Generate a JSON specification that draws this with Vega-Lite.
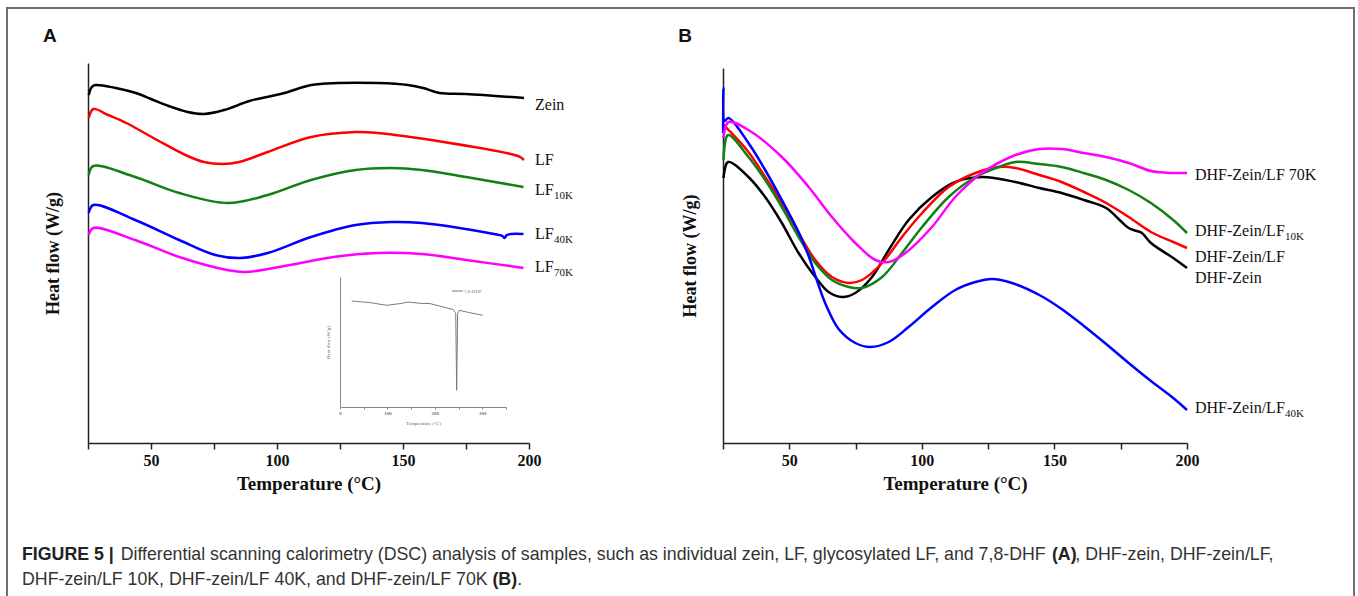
{
  "$schema": "https://vega.github.io/schema/vega-lite/v6.json",
  "width": 1347,
  "height": 588,
  "autosize": {"type": "none"},
  "padding": {"left": 7, "top": 8, "right": 4, "bottom": 0},
  "background": "white",
  "config": {
    "view": {"stroke": "#707070", "strokeWidth": 2, "strokeDash": [1935, 1347, 588]},
    "axis": {"grid": false, "minExtent": 0}
  },
  "title": {
    "text": [
      "\u200b\u00a0\u00a0\u00a0\u00a0\u00a0\u00a0\u00a0\u00a0\u00a0\u00a0\u00a0\u00a0\u00a0\u00a0\u00a0\u00a0\u00a0\u00a0\u00a0\u00a0Differential scanning calorimetry (DSC) analysis of samples, such as individual zein, LF, glycosylated LF, and 7,8-DHF \u00a0\u00a0\u00a0\u00a0\u00a0, DHF-zein, DHF-zein/LF,",
      "DHF-zein/LF 10K, DHF-zein/LF 40K, and DHF-zein/LF 70K \u00a0\u00a0\u00a0\u00a0\u00a0."
    ],
    "orient": "bottom",
    "anchor": "start",
    "frame": "group",
    "offset": -50,
    "dx": 15,
    "font": "Liberation Sans",
    "fontSize": 17.75,
    "fontWeight": "normal",
    "color": "#333333",
    "lineHeight": 25
  },
  "datasets": {
    "A_lines": [
      {"s": "Zein", "T": 25.3, "h": 348}, {"s": "Zein", "T": 26.5, "h": 356}, {"s": "Zein", "T": 28, "h": 358}, {"s": "Zein", "T": 36, "h": 355}, {"s": "Zein", "T": 44, "h": 350}, {"s": "Zein", "T": 50, "h": 344}, {"s": "Zein", "T": 57, "h": 337}, {"s": "Zein", "T": 64.5, "h": 331}, {"s": "Zein", "T": 71, "h": 329}, {"s": "Zein", "T": 79, "h": 333}, {"s": "Zein", "T": 89, "h": 342}, {"s": "Zein", "T": 96, "h": 346}, {"s": "Zein", "T": 103, "h": 350}, {"s": "Zein", "T": 113.5, "h": 358}, {"s": "Zein", "T": 124, "h": 360}, {"s": "Zein", "T": 140, "h": 360}, {"s": "Zein", "T": 152, "h": 358}, {"s": "Zein", "T": 158, "h": 355}, {"s": "Zein", "T": 164.5, "h": 350}, {"s": "Zein", "T": 175, "h": 349}, {"s": "Zein", "T": 198, "h": 345},
      {"s": "LF", "T": 25.3, "h": 325}, {"s": "LF", "T": 27.1, "h": 334}, {"s": "LF", "T": 33, "h": 328}, {"s": "LF", "T": 40.2, "h": 320}, {"s": "LF", "T": 52.4, "h": 303}, {"s": "LF", "T": 64.5, "h": 287}, {"s": "LF", "T": 71, "h": 281}, {"s": "LF", "T": 78.5, "h": 279}, {"s": "LF", "T": 85, "h": 281}, {"s": "LF", "T": 96.3, "h": 291}, {"s": "LF", "T": 113.5, "h": 306}, {"s": "LF", "T": 131.2, "h": 311}, {"s": "LF", "T": 139.8, "h": 310}, {"s": "LF", "T": 166.1, "h": 301}, {"s": "LF", "T": 194.3, "h": 288}, {"s": "LF", "T": 196.5, "h": 286}, {"s": "LF", "T": 198, "h": 283},
      {"s": "LF10K", "T": 25.3, "h": 268}, {"s": "LF10K", "T": 27.1, "h": 277}, {"s": "LF10K", "T": 43.7, "h": 266}, {"s": "LF10K", "T": 61.2, "h": 250}, {"s": "LF10K", "T": 80.6, "h": 240}, {"s": "LF10K", "T": 96.3, "h": 248}, {"s": "LF10K", "T": 113.5, "h": 263}, {"s": "LF10K", "T": 131.2, "h": 273}, {"s": "LF10K", "T": 145.3, "h": 275}, {"s": "LF10K", "T": 157.5, "h": 273}, {"s": "LF10K", "T": 175.1, "h": 266}, {"s": "LF10K", "T": 197.8, "h": 256},
      {"s": "LF40K", "T": 25.3, "h": 230}, {"s": "LF40K", "T": 27.1, "h": 238}, {"s": "LF40K", "T": 43.7, "h": 223}, {"s": "LF40K", "T": 61.2, "h": 203}, {"s": "LF40K", "T": 75.5, "h": 188}, {"s": "LF40K", "T": 85.7, "h": 185}, {"s": "LF40K", "T": 96.3, "h": 190}, {"s": "LF40K", "T": 113.5, "h": 206}, {"s": "LF40K", "T": 131.2, "h": 218}, {"s": "LF40K", "T": 145.3, "h": 221}, {"s": "LF40K", "T": 157.5, "h": 220}, {"s": "LF40K", "T": 185, "h": 209.5}, {"s": "LF40K", "T": 189.5, "h": 207}, {"s": "LF40K", "T": 190.3, "h": 205}, {"s": "LF40K", "T": 191.2, "h": 208}, {"s": "LF40K", "T": 193, "h": 209}, {"s": "LF40K", "T": 197.8, "h": 209},
      {"s": "LF70K", "T": 25.3, "h": 208}, {"s": "LF70K", "T": 27.1, "h": 215}, {"s": "LF70K", "T": 43.7, "h": 203}, {"s": "LF70K", "T": 61.2, "h": 186}, {"s": "LF70K", "T": 80.2, "h": 173}, {"s": "LF70K", "T": 87.5, "h": 171}, {"s": "LF70K", "T": 105, "h": 178}, {"s": "LF70K", "T": 122.5, "h": 186}, {"s": "LF70K", "T": 139.8, "h": 190}, {"s": "LF70K", "T": 157.5, "h": 189}, {"s": "LF70K", "T": 175.1, "h": 183}, {"s": "LF70K", "T": 197.8, "h": 175}
    ],
    "A_labels": [
      {"T": 200, "h": 338, "label": "Zein", "sub": ""},
      {"T": 200, "h": 283, "label": "LF", "sub": ""},
      {"T": 200, "h": 253, "label": "LF", "sub": "10K"},
      {"T": 200, "h": 209, "label": "LF", "sub": "40K"},
      {"T": 200, "h": 176, "label": "LF", "sub": "70K"}
    ],
    "A_letter": [{"T": 9.9, "h": 407, "label": "A"}],
    "caption_bold": [
      {"T": -1.19, "h": -116.5, "label": "FIGURE 5 |"},
      {"T": 407.5, "h": -116.5, "label": "(A)"},
      {"T": 185.5, "h": -141.5, "label": "(B)"}
    ],
    "B_lines": [
      {"s": "DHF-Zein", "T": 25.2, "h": 265}, {"s": "DHF-Zein", "T": 26.9, "h": 281}, {"s": "DHF-Zein", "T": 34.6, "h": 266}, {"s": "DHF-Zein", "T": 40.9, "h": 246}, {"s": "DHF-Zein", "T": 47.2, "h": 220}, {"s": "DHF-Zein", "T": 53.5, "h": 190}, {"s": "DHF-Zein", "T": 59.8, "h": 166}, {"s": "DHF-Zein", "T": 64.8, "h": 151}, {"s": "DHF-Zein", "T": 69.9, "h": 146}, {"s": "DHF-Zein", "T": 74.9, "h": 150}, {"s": "DHF-Zein", "T": 81.2, "h": 166}, {"s": "DHF-Zein", "T": 87.5, "h": 193}, {"s": "DHF-Zein", "T": 95, "h": 223}, {"s": "DHF-Zein", "T": 103.8, "h": 246}, {"s": "DHF-Zein", "T": 112.6, "h": 261}, {"s": "DHF-Zein", "T": 122.7, "h": 266}, {"s": "DHF-Zein", "T": 135.3, "h": 261}, {"s": "DHF-Zein", "T": 144.3, "h": 255}, {"s": "DHF-Zein", "T": 152.7, "h": 250}, {"s": "DHF-Zein", "T": 161.1, "h": 243}, {"s": "DHF-Zein", "T": 169.5, "h": 235}, {"s": "DHF-Zein", "T": 174.6, "h": 223}, {"s": "DHF-Zein", "T": 178, "h": 215}, {"s": "DHF-Zein", "T": 181, "h": 212}, {"s": "DHF-Zein", "T": 183, "h": 210}, {"s": "DHF-Zein", "T": 186.4, "h": 200}, {"s": "DHF-Zein", "T": 194.8, "h": 185}, {"s": "DHF-Zein", "T": 200, "h": 175},
      {"s": "DHF-Zein/LF", "T": 25.2, "h": 318}, {"s": "DHF-Zein/LF", "T": 27.1, "h": 313}, {"s": "DHF-Zein/LF", "T": 34.6, "h": 291}, {"s": "DHF-Zein/LF", "T": 40.9, "h": 266}, {"s": "DHF-Zein/LF", "T": 47.2, "h": 240}, {"s": "DHF-Zein/LF", "T": 53.5, "h": 210}, {"s": "DHF-Zein/LF", "T": 59.8, "h": 183}, {"s": "DHF-Zein/LF", "T": 66.1, "h": 166}, {"s": "DHF-Zein/LF", "T": 72.4, "h": 160}, {"s": "DHF-Zein/LF", "T": 77.4, "h": 163}, {"s": "DHF-Zein/LF", "T": 85, "h": 180}, {"s": "DHF-Zein/LF", "T": 92.5, "h": 206}, {"s": "DHF-Zein/LF", "T": 100.1, "h": 230}, {"s": "DHF-Zein/LF", "T": 110.1, "h": 256}, {"s": "DHF-Zein/LF", "T": 120.2, "h": 270}, {"s": "DHF-Zein/LF", "T": 129, "h": 276}, {"s": "DHF-Zein/LF", "T": 135.3, "h": 275}, {"s": "DHF-Zein/LF", "T": 144.3, "h": 268}, {"s": "DHF-Zein/LF", "T": 152.7, "h": 261}, {"s": "DHF-Zein/LF", "T": 161.1, "h": 251}, {"s": "DHF-Zein/LF", "T": 169.5, "h": 240}, {"s": "DHF-Zein/LF", "T": 178, "h": 226}, {"s": "DHF-Zein/LF", "T": 186.4, "h": 211}, {"s": "DHF-Zein/LF", "T": 194.8, "h": 201}, {"s": "DHF-Zein/LF", "T": 200, "h": 195},
      {"s": "DHF-Zein/LF10K", "T": 25.2, "h": 283}, {"s": "DHF-Zein/LF10K", "T": 26.9, "h": 308}, {"s": "DHF-Zein/LF10K", "T": 34.6, "h": 286}, {"s": "DHF-Zein/LF10K", "T": 40.9, "h": 263}, {"s": "DHF-Zein/LF10K", "T": 47.2, "h": 236}, {"s": "DHF-Zein/LF10K", "T": 53.5, "h": 206}, {"s": "DHF-Zein/LF10K", "T": 59.8, "h": 180}, {"s": "DHF-Zein/LF10K", "T": 66.1, "h": 163}, {"s": "DHF-Zein/LF10K", "T": 72.4, "h": 156}, {"s": "DHF-Zein/LF10K", "T": 77.4, "h": 155}, {"s": "DHF-Zein/LF10K", "T": 85, "h": 166}, {"s": "DHF-Zein/LF10K", "T": 92.5, "h": 190}, {"s": "DHF-Zein/LF10K", "T": 100.1, "h": 216}, {"s": "DHF-Zein/LF10K", "T": 110.1, "h": 246}, {"s": "DHF-Zein/LF10K", "T": 120.2, "h": 266}, {"s": "DHF-Zein/LF10K", "T": 129, "h": 276}, {"s": "DHF-Zein/LF10K", "T": 135.3, "h": 281}, {"s": "DHF-Zein/LF10K", "T": 144.3, "h": 279}, {"s": "DHF-Zein/LF10K", "T": 152.7, "h": 276}, {"s": "DHF-Zein/LF10K", "T": 161.1, "h": 270}, {"s": "DHF-Zein/LF10K", "T": 169.5, "h": 263}, {"s": "DHF-Zein/LF10K", "T": 178, "h": 253}, {"s": "DHF-Zein/LF10K", "T": 186.4, "h": 240}, {"s": "DHF-Zein/LF10K", "T": 194.8, "h": 223}, {"s": "DHF-Zein/LF10K", "T": 200, "h": 210},
      {"s": "DHF-Zein/LF40K", "T": 25.05, "h": 310}, {"s": "DHF-Zein/LF40K", "T": 25.15, "h": 355}, {"s": "DHF-Zein/LF40K", "T": 25.6, "h": 322}, {"s": "DHF-Zein/LF40K", "T": 27.1, "h": 325}, {"s": "DHF-Zein/LF40K", "T": 34.6, "h": 300}, {"s": "DHF-Zein/LF40K", "T": 40.9, "h": 273}, {"s": "DHF-Zein/LF40K", "T": 47.2, "h": 243}, {"s": "DHF-Zein/LF40K", "T": 53.5, "h": 211}, {"s": "DHF-Zein/LF40K", "T": 57.3, "h": 187}, {"s": "DHF-Zein/LF40K", "T": 60.5, "h": 162}, {"s": "DHF-Zein/LF40K", "T": 64, "h": 137}, {"s": "DHF-Zein/LF40K", "T": 68.6, "h": 114}, {"s": "DHF-Zein/LF40K", "T": 74.9, "h": 100}, {"s": "DHF-Zein/LF40K", "T": 80.6, "h": 96}, {"s": "DHF-Zein/LF40K", "T": 87.5, "h": 101}, {"s": "DHF-Zein/LF40K", "T": 95, "h": 116}, {"s": "DHF-Zein/LF40K", "T": 103.8, "h": 136}, {"s": "DHF-Zein/LF40K", "T": 112.6, "h": 153}, {"s": "DHF-Zein/LF40K", "T": 120.2, "h": 161}, {"s": "DHF-Zein/LF40K", "T": 126.5, "h": 164}, {"s": "DHF-Zein/LF40K", "T": 134, "h": 160}, {"s": "DHF-Zein/LF40K", "T": 144.3, "h": 148}, {"s": "DHF-Zein/LF40K", "T": 152.7, "h": 134}, {"s": "DHF-Zein/LF40K", "T": 161.1, "h": 117}, {"s": "DHF-Zein/LF40K", "T": 169.5, "h": 99}, {"s": "DHF-Zein/LF40K", "T": 178, "h": 80}, {"s": "DHF-Zein/LF40K", "T": 186.4, "h": 62}, {"s": "DHF-Zein/LF40K", "T": 194.8, "h": 45}, {"s": "DHF-Zein/LF40K", "T": 200, "h": 33},
      {"s": "DHF-Zein/LF70K", "T": 25.2, "h": 305}, {"s": "DHF-Zein/LF70K", "T": 27.1, "h": 321}, {"s": "DHF-Zein/LF70K", "T": 34.6, "h": 313}, {"s": "DHF-Zein/LF70K", "T": 47.2, "h": 286}, {"s": "DHF-Zein/LF70K", "T": 57.3, "h": 256}, {"s": "DHF-Zein/LF70K", "T": 66.1, "h": 226}, {"s": "DHF-Zein/LF70K", "T": 74.9, "h": 200}, {"s": "DHF-Zein/LF70K", "T": 82.5, "h": 183}, {"s": "DHF-Zein/LF70K", "T": 87.5, "h": 181}, {"s": "DHF-Zein/LF70K", "T": 93.8, "h": 190}, {"s": "DHF-Zein/LF70K", "T": 103.8, "h": 216}, {"s": "DHF-Zein/LF70K", "T": 112.6, "h": 246}, {"s": "DHF-Zein/LF70K", "T": 122.7, "h": 270}, {"s": "DHF-Zein/LF70K", "T": 135.3, "h": 288}, {"s": "DHF-Zein/LF70K", "T": 144.3, "h": 294}, {"s": "DHF-Zein/LF70K", "T": 152.7, "h": 294}, {"s": "DHF-Zein/LF70K", "T": 161.1, "h": 290}, {"s": "DHF-Zein/LF70K", "T": 169.5, "h": 286}, {"s": "DHF-Zein/LF70K", "T": 178, "h": 280}, {"s": "DHF-Zein/LF70K", "T": 186.4, "h": 272}, {"s": "DHF-Zein/LF70K", "T": 194.8, "h": 270}, {"s": "DHF-Zein/LF70K", "T": 200, "h": 270}
    ],
    "B_labels": [
      {"T": 200, "h": 268, "label": "DHF-Zein/LF 70K", "sub": ""},
      {"T": 200, "h": 212, "label": "DHF-Zein/LF", "sub": "10K"},
      {"T": 200, "h": 186, "label": "DHF-Zein/LF", "sub": ""},
      {"T": 200, "h": 165, "label": "DHF-Zein", "sub": ""},
      {"T": 200, "h": 35, "label": "DHF-Zein/LF", "sub": "40K"}
    ],
    "B_letter": [{"T": 10.7, "h": 407, "label": "B"}],
    "inset_line": [
      {"T": 24.7, "h": 106}, {"T": 63.3, "h": 104.4}, {"T": 98.4, "h": 101.7}, {"T": 126.5, "h": 103.4}, {"T": 144, "h": 105}, {"T": 168.7, "h": 103.7}, {"T": 189.8, "h": 103.4}, {"T": 217.8, "h": 100}, {"T": 239, "h": 97.4}, {"T": 244, "h": 93.4}, {"T": 246, "h": 16.7}, {"T": 248, "h": 93.4}, {"T": 251.5, "h": 96.7}, {"T": 267, "h": 95}, {"T": 301, "h": 91.7}
    ],
    "inset_legend": [{"T": 236, "T2": 259, "h": 116, "label": "7,8-DHF"}]
  },
  "layer": [
    {
      "encoding": {
        "x": {"field": "T", "type": "quantitative",
          "scale": {"domain": [25, 200], "range": [81, 522], "nice": false, "zero": false},
          "axis": {"orient": "bottom", "offset": -153, "values": [25, 50, 75, 100, 125, 150, 175, 200],
            "labelExpr": "datum.value % 50 === 0 ? datum.label : ''",
            "tickSize": 6, "tickWidth": 1.5, "domainWidth": 1.5, "domainColor": "#222222", "tickColor": "#222222",
            "labelFont": "Liberation Serif", "labelFontWeight": "bold", "labelFontSize": 16, "labelColor": "#111111",
            "labelPadding": 3, "labelFlush": false, "labelOverlap": false,
            "title": "Temperature (°C)", "titleFont": "Liberation Serif", "titleFontWeight": "bold", "titleFontSize": 19,
            "titleColor": "#111111", "titlePadding": 6}},
        "y": {"field": "h", "type": "quantitative",
          "scale": {"domain": [0, 380], "range": [435, 55], "nice": false, "zero": false},
          "axis": {"orient": "left", "offset": -81, "ticks": false, "labels": false, "domainWidth": 1.5, "domainColor": "#222222",
            "title": "Heat flow (W/g)", "titleFont": "Liberation Serif", "titleFontWeight": "bold", "titleFontSize": 18,
            "titleColor": "#111111", "titlePadding": 26}}
      },
      "layer": [
        {
          "data": {"name": "A_lines"},
          "mark": {"type": "line", "interpolate": "catmull-rom", "strokeWidth": 2.5},
          "encoding": {
            "color": {"field": "s", "type": "nominal", "legend": null,
              "scale": {"domain": ["Zein", "LF", "LF10K", "LF40K", "LF70K"], "range": ["#000000", "#ff0000", "#128012", "#0000ff", "#ff00ff"]}}
          }
        },
        {
          "data": {"name": "A_labels"},
          "mark": {"type": "text", "align": "left", "baseline": "middle", "dx": 6, "font": "Liberation Serif", "fontSize": 16, "color": "#111111"},
          "encoding": {"text": {"field": "label"}}
        },
        {
          "data": {"name": "A_labels"},
          "transform": [{"filter": "datum.sub !== ''"}],
          "mark": {"type": "text", "align": "left", "baseline": "middle", "dx": 25, "dy": 6, "font": "Liberation Serif", "fontSize": 11, "color": "#111111"},
          "encoding": {"text": {"field": "sub"}}
        },
        {
          "data": {"name": "A_letter"},
          "mark": {"type": "text", "align": "center", "baseline": "middle", "font": "Liberation Sans", "fontWeight": "bold", "fontSize": 19, "color": "#111111"},
          "encoding": {"text": {"field": "label"}}
        },
        {
          "data": {"name": "caption_bold"},
          "mark": {"type": "text", "align": "left", "baseline": "alphabetic", "font": "Liberation Sans", "fontWeight": "bold", "fontSize": 17.75, "color": "#222222"},
          "encoding": {"text": {"field": "label"}}
        }
      ]
    },
    {
      "encoding": {
        "x": {"field": "T", "type": "quantitative",
          "scale": {"domain": [25, 200], "range": [716, 1180], "nice": false, "zero": false},
          "axis": {"orient": "bottom", "offset": -153, "values": [25, 50, 75, 100, 125, 150, 175, 200],
            "labelExpr": "datum.value % 50 === 0 ? datum.label : ''",
            "tickSize": 6, "tickWidth": 1.5, "domainWidth": 1.5, "domainColor": "#222222", "tickColor": "#222222",
            "labelFont": "Liberation Serif", "labelFontWeight": "bold", "labelFontSize": 16, "labelColor": "#111111",
            "labelPadding": 3, "labelFlush": false, "labelOverlap": false,
            "title": "Temperature (°C)", "titleFont": "Liberation Serif", "titleFontWeight": "bold", "titleFontSize": 19,
            "titleColor": "#111111", "titlePadding": 6}},
        "y": {"field": "h", "type": "quantitative",
          "scale": {"domain": [0, 375], "range": [435, 60], "nice": false, "zero": false},
          "axis": {"orient": "left", "offset": -716, "ticks": false, "labels": false, "domainWidth": 1.5, "domainColor": "#222222",
            "title": "Heat flow (W/g)", "titleFont": "Liberation Serif", "titleFontWeight": "bold", "titleFontSize": 18,
            "titleColor": "#111111", "titlePadding": 24}}
      },
      "layer": [
        {
          "data": {"name": "B_lines"},
          "mark": {"type": "line", "interpolate": "catmull-rom", "strokeWidth": 2.5},
          "encoding": {
            "color": {"field": "s", "type": "nominal", "legend": null,
              "scale": {"domain": ["DHF-Zein", "DHF-Zein/LF", "DHF-Zein/LF10K", "DHF-Zein/LF40K", "DHF-Zein/LF70K"], "range": ["#000000", "#ff0000", "#128012", "#0000ff", "#ff00ff"]}}
          }
        },
        {
          "data": {"name": "B_labels"},
          "mark": {"type": "text", "align": "left", "baseline": "middle", "dx": 8, "font": "Liberation Serif", "fontSize": 16, "color": "#111111"},
          "encoding": {"text": {"field": "label"}}
        },
        {
          "data": {"name": "B_labels"},
          "transform": [{"filter": "datum.sub !== ''"}],
          "mark": {"type": "text", "align": "left", "baseline": "middle", "dx": 98, "dy": 6, "font": "Liberation Serif", "fontSize": 11, "color": "#111111"},
          "encoding": {"text": {"field": "sub"}}
        },
        {
          "data": {"name": "B_letter"},
          "mark": {"type": "text", "align": "center", "baseline": "middle", "font": "Liberation Sans", "fontWeight": "bold", "fontSize": 19, "color": "#111111"},
          "encoding": {"text": {"field": "label"}}
        }
      ]
    },
    {
      "encoding": {
        "x": {"field": "T", "type": "quantitative",
          "scale": {"domain": [0, 350], "range": [333, 499], "nice": false, "zero": false},
          "axis": {"orient": "bottom", "offset": -189, "values": [0, 50, 100, 150, 200, 250, 300, 350],
            "labelExpr": "datum.value % 100 === 0 && datum.value < 350 ? datum.label : ''",
            "tickSize": 2, "tickWidth": 1, "domainWidth": 1, "domainColor": "#8a8a8a", "tickColor": "#8a8a8a",
            "labelFont": "Liberation Serif", "labelFontWeight": "bold", "labelFontSize": 5, "labelColor": "#777777",
            "labelPadding": 1, "labelFlush": false, "labelOverlap": false,
            "title": "Temperature (°C)", "titleFont": "Liberation Serif", "titleFontWeight": "normal", "titleFontSize": 5,
            "titleColor": "#666666", "titlePadding": 5}},
        "y": {"field": "h", "type": "quantitative",
          "scale": {"domain": [0, 130], "range": [399, 269], "nice": false, "zero": false},
          "axis": {"orient": "left", "offset": -333, "ticks": false, "labels": false, "domainWidth": 1, "domainColor": "#8a8a8a",
            "title": "Heat flow (W/g)", "titleFont": "Liberation Serif", "titleFontWeight": "normal", "titleFontSize": 5,
            "titleColor": "#666666", "titlePadding": 10}}
      },
      "layer": [
        {
          "data": {"name": "inset_line"},
          "mark": {"type": "line", "color": "#7a7a7a", "strokeWidth": 1}
        },
        {
          "data": {"name": "inset_legend"},
          "mark": {"type": "rule", "color": "#7a7a7a", "strokeWidth": 1},
          "encoding": {"x2": {"field": "T2"}}
        },
        {
          "data": {"name": "inset_legend"},
          "mark": {"type": "text", "align": "left", "baseline": "middle", "dx": 12, "font": "Liberation Serif", "fontSize": 5, "color": "#777777"},
          "encoding": {"text": {"field": "label"}}
        }
      ]
    }
  ],
  "resolve": {
    "scale": {"x": "independent", "y": "independent", "color": "independent"},
    "axis": {"x": "independent", "y": "independent"}
  }
}
